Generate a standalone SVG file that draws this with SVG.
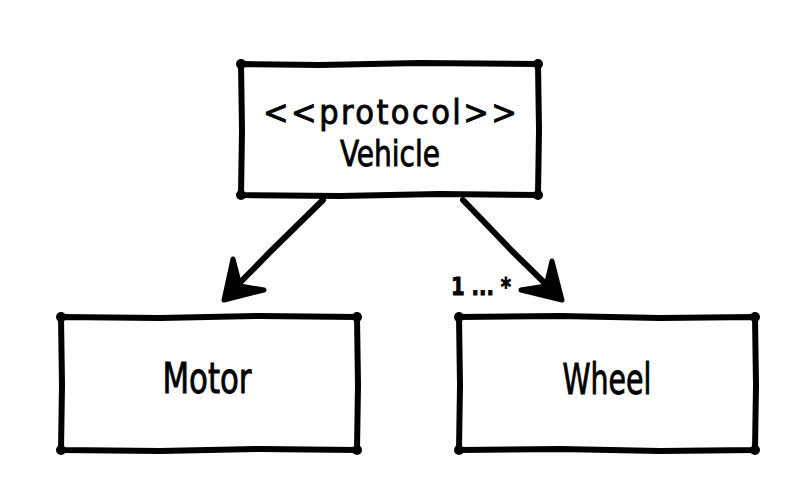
<svg xmlns="http://www.w3.org/2000/svg" width="810" height="500" viewBox="0 0 810 500">
<style>
.box{fill:#fff;stroke:#000;stroke-width:6;stroke-linejoin:round;stroke-linecap:round}
.dot{fill:#000}
.lbl{font-family:"Liberation Sans Narrow","DejaVu Sans Condensed","Liberation Sans",sans-serif;fill:#000;stroke:#000;stroke-width:0.8;text-anchor:middle}
.edge{fill:none;stroke:#000;stroke-width:6;stroke-linecap:round;stroke-linejoin:round}
.head{fill:#000;stroke:#000;stroke-width:5;stroke-linejoin:round;stroke-linecap:round}
</style>
<rect width="810" height="500" fill="#fff"/>
<g id="connectors">
  <path class="edge" d="M323,200 L270,252 L226,297"/>
  <path class="head" d="M233,259 L224,300 L264,290 L240,286 Z"/>
  <path class="edge" d="M463,200 L512,251 L559,297"/>
  <path class="head" d="M552,261 L562,300 L521,290 L546,286 Z"/>
  <text class="lbl" x="481" y="295" font-size="24" font-weight="bold" textLength="60" lengthAdjust="spacingAndGlyphs">1 ... *</text>
</g>
<g id="vehicle">
  <path class="box" d="M241,64 L320,65 L420,63 L538,64 L539,130 L538,195 L440,194 L340,196 L241,195 L242,130 Z"/>
  <circle class="dot" cx="241" cy="64" r="5"/><circle class="dot" cx="538" cy="64" r="5"/>
  <circle class="dot" cx="241" cy="195" r="5"/><circle class="dot" cx="538" cy="195" r="5"/>
  <text class="lbl" x="390" y="124" font-size="34" textLength="254" lengthAdjust="spacing">&lt;&lt;protocol&gt;&gt;</text>
  <text class="lbl" x="390" y="166" font-size="36" textLength="100" lengthAdjust="spacingAndGlyphs">Vehicle</text>
</g>
<g id="motor">
  <path class="box" d="M61,317 L160,318 L260,316 L357,317 L358,385 L357,450 L260,449 L160,451 L61,450 L62,385 Z"/>
  <circle class="dot" cx="61" cy="317" r="5"/><circle class="dot" cx="357" cy="317" r="5"/>
  <circle class="dot" cx="61" cy="450" r="5"/><circle class="dot" cx="357" cy="450" r="5"/>
  <text class="lbl" x="207" y="393" font-size="42" textLength="89" lengthAdjust="spacingAndGlyphs">Motor</text>
</g>
<g id="wheel">
  <path class="box" d="M459,317 L560,316 L660,318 L755,317 L756,385 L755,450 L660,451 L560,449 L459,450 L460,385 Z"/>
  <circle class="dot" cx="459" cy="317" r="5"/><circle class="dot" cx="755" cy="317" r="5"/>
  <circle class="dot" cx="459" cy="450" r="5"/><circle class="dot" cx="755" cy="450" r="5"/>
  <text class="lbl" x="607" y="394" font-size="42" textLength="89" lengthAdjust="spacingAndGlyphs">Wheel</text>
</g>
</svg>
